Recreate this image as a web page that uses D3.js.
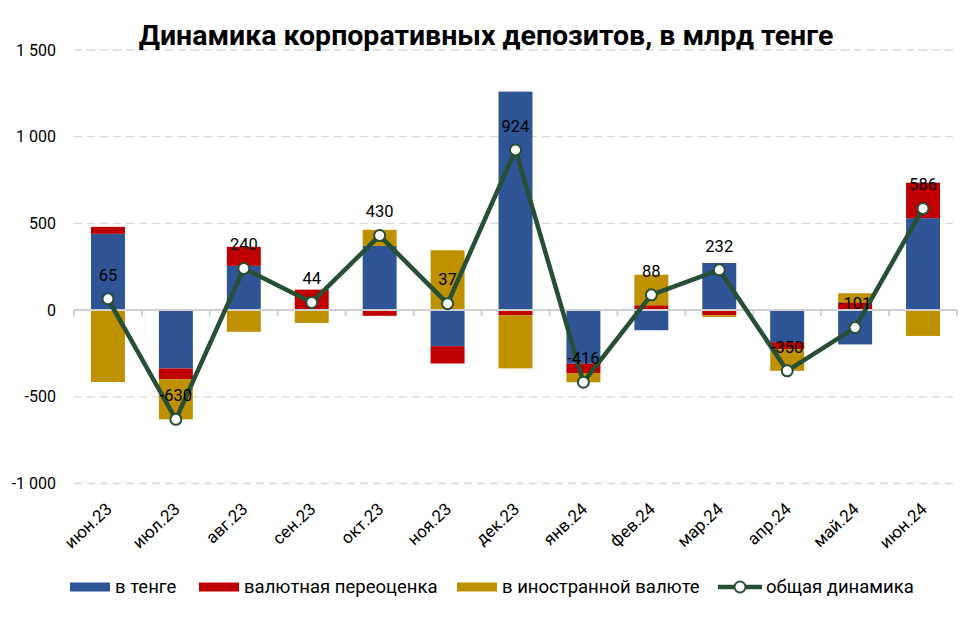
<!DOCTYPE html>
<html><head><meta charset="utf-8">
<script src="https://cdn.jsdelivr.net/npm/d3@7"></script>
<style>
html,body{margin:0;padding:0;background:#fff;}
svg{display:block;font-family:Roboto,"DejaVu Sans",sans-serif;}
</style></head>
<body><svg id="c" width="974" height="617"></svg>
<script>
const months = ["июн.23","июл.23","авг.23","сен.23","окт.23","ноя.23","дек.23","янв.24","фев.24","мар.24","апр.24","май.24","июн.24"];
const tenge   = [440, -337, 255, 0, 370, -208, 1260, -309, -116, 272, -185, -198, 530];
const reval   = [40, -62, 110, 118, -33, -100, -30, -54, 28, -30, -40, 45, 205];
const foreign = [-415, -231, -125, -74, 93, 345, -306, -53, 176, -10, -125, 52, -149];
const total   = [65, -630, 240, 44, 430, 37, 924, -416, 88, 232, -350, -101, 586];
const yTicks  = [-1000, -500, 0, 500, 1000, 1500];
const seriesNames = ["в тенге","валютная переоценка","в иностранной валюте"];
const lineName = "общая динамика";
const title = "Динамика корпоративных депозитов, в млрд тенге";

const colors = ["#2F5597","#C00000","#BF9000"];
const lineColor = "#264F36";

const svg = d3.select("#c");
const x = d3.scaleBand().domain(months).range([74, 957]).paddingInner(0.5).paddingOuter(0.25);
const y = d3.scaleLinear().domain([-1000, 1500]).range([483.5, 50]);

// grid
svg.append("g").selectAll("line").data(yTicks.filter(d=>d!==0)).join("line")
  .attr("x1",74).attr("x2",955).attr("y1",d=>y(d)).attr("y2",d=>y(d))
  .attr("stroke","#D9D9D9").attr("stroke-width",1.3).attr("stroke-dasharray","8,5");

// y labels
svg.append("g").selectAll("text").data(yTicks).join("text")
  .attr("x",56).attr("y",d=>y(d)).attr("dy","0.35em").attr("text-anchor","end")
  .attr("font-size",16).attr("fill","#000")
  .text(d=>d3.format(",")(d).replace(/,/g," ").replace("−","-"));

// stacked bars
const rows = months.map((m,i)=>({m, a:tenge[i], b:reval[i], c:foreign[i]}));
const stack = d3.stack().keys(["a","b","c"]).offset(d3.stackOffsetDiverging).order(d3.stackOrderNone);
const layers = stack(rows);
svg.append("g").selectAll("g").data(layers).join("g").attr("fill",(d,i)=>colors[i])
  .selectAll("rect").data(d=>d).join("rect")
  .attr("x",d=>x(d.data.m)).attr("width",x.bandwidth())
  .attr("y",d=>y(Math.max(d[0],d[1]))).attr("height",d=>Math.abs(y(d[0])-y(d[1])));

// zero axis
svg.append("line").attr("x1",74).attr("x2",957).attr("y1",y(0)).attr("y2",y(0))
  .attr("stroke","#D0D0D0").attr("stroke-width",2);
const step = x.step();
const bounds = d3.range(months.length+1).map(i=>74+i*step);
svg.append("g").selectAll("line").data(bounds).join("line")
  .attr("x1",d=>d).attr("x2",d=>d).attr("y1",y(0)).attr("y2",y(0)+6)
  .attr("stroke","#D0D0D0").attr("stroke-width",2);

// x labels
svg.append("g").selectAll("text").data(months).join("text")
  .attr("transform",d=>`translate(${x(d)+x.bandwidth()/2+5},${y(-1000)+27}) rotate(-43)`)
  .attr("text-anchor","end").attr("font-size",17).attr("fill","#000").text(d=>d);

// line
const cx = i=>x(months[i])+x.bandwidth()/2;
svg.append("path").datum(total)
  .attr("d", d3.line().x((d,i)=>cx(i)).y(d=>y(d)))
  .attr("fill","none").attr("stroke",lineColor).attr("stroke-width",4.5).attr("stroke-linejoin","round");
svg.append("g").selectAll("circle").data(total).join("circle")
  .attr("cx",(d,i)=>cx(i)).attr("cy",d=>y(d)).attr("r",5.5)
  .attr("fill","#fff").attr("stroke",lineColor).attr("stroke-width",2);
svg.append("g").selectAll("text").data(total).join("text")
  .attr("x",(d,i)=>cx(i)).attr("y",d=>y(d)-24).attr("dy","0.35em").attr("text-anchor","middle")
  .attr("font-size",16.5).attr("fill","#000").text(d=>String(d));

// title
svg.append("text").attr("x",486).attr("y",35).attr("dy","0.35em").attr("text-anchor","middle")
  .attr("font-size",28.5).attr("font-weight","bold").attr("fill","#000").text(title);

// legend
const lg = svg.append("g");
const ly = 587;
const items = [{t:seriesNames[0],c:colors[0],x:70},{t:seriesNames[1],c:colors[1],x:199},{t:seriesNames[2],c:colors[2],x:457}];
items.forEach(it=>{
  lg.append("rect").attr("x",it.x).attr("y",ly-4.5).attr("width",40).attr("height",9).attr("fill",it.c);
  lg.append("text").attr("x",it.x+45).attr("y",ly).attr("dy","0.35em").attr("font-size",18.5).text(it.t);
});
lg.append("line").attr("x1",718).attr("x2",762).attr("y1",ly).attr("y2",ly).attr("stroke",lineColor).attr("stroke-width",4.5);
lg.append("circle").attr("cx",740).attr("cy",ly).attr("r",5.5).attr("fill","#fff").attr("stroke",lineColor).attr("stroke-width",2);
lg.append("text").attr("x",766).attr("y",ly).attr("dy","0.35em").attr("font-size",18.5).text(lineName);
</script></body></html>
